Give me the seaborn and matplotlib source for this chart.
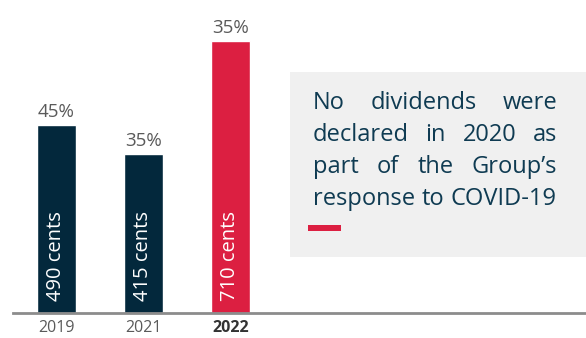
import matplotlib
matplotlib.use("Agg")
import matplotlib.pyplot as plt
import seaborn as sns
import pandas as pd
from matplotlib.patches import Rectangle

years = ["2019", "2021", "2022"]
dividend_cents = [490, 415, 710]
payout_labels = ["45%", "35%", "35%"]
bar_labels = ["490 cents", "415 cents", "710 cents"]
note_lines = ["No dividends were", "declared in 2020 as", "part of the Group\u2019s", "response to COVID-19"]

NAVY = "#03283c"
RED = "#dc1f41"
GRAY_TXT = "#5a5a5a"
NOTE_TXT = "#0f3b52"

sns.set_theme(style="white")
plt.rcParams['font.family'] = ['Open Sans', 'DejaVu Sans']

df = pd.DataFrame({"year": years, "cents": dividend_cents})

W, H = 586, 338
fig = plt.figure(figsize=(W / 100, H / 100), dpi=100)
ax = fig.add_axes([13 / W, 25 / H, 1 - 13 / W, 313 / H])

sns.barplot(data=df, x="year", y="cents", hue="year",
            palette=[NAVY, NAVY, RED], width=0.45, legend=False, ax=ax,
            saturation=1)

ax.set_xlim(-0.5, 6.09)
ax.set_ylim(0, 817)
for s in ["top", "right", "left"]:
    ax.spines[s].set_visible(False)
ax.spines["bottom"].set_color("#8c8c8c")
ax.spines["bottom"].set_linewidth(2)
ax.set_yticks([])
ax.set_xlabel("")
ax.set_ylabel("")
ax.set_xticks([0, 1, 2])
ax.set_xticklabels(years)
ax.tick_params(axis="x", length=0, pad=5, labelsize=11.5, colors=GRAY_TXT)
ax.get_xticklabels()[2].set_fontweight("bold")
ax.get_xticklabels()[2].set_color("#333333")

for i, (v, p, b) in enumerate(zip(dividend_cents, payout_labels, bar_labels)):
    ax.text(i, v + 10, p, ha="center", va="bottom", fontsize=13.5, color=GRAY_TXT)
    ax.text(i, 32, b, ha="center", va="bottom", rotation=90, fontsize=14.5, color="white")

# note box
box = Rectangle((290 / W, 1 - 257 / H), (W - 290) / W, (257 - 72) / H,
                transform=fig.transFigure, facecolor="#f0f0f0", edgecolor="none", zorder=0)
fig.patches.append(box)
fig.patches.append(Rectangle((308 / W, 1 - 231 / H), 33 / W, 6 / H,
                             transform=fig.transFigure, facecolor=RED, edgecolor="none"))

fig.canvas.draw()
renderer = fig.canvas.get_renderer()
x_left, x_right = 313, 557
baselines = [109, 141, 173, 205]
fs = 17
for li, (line, yb) in enumerate(zip(note_lines, baselines)):
    words = line.split(" ")
    yf = 1 - yb / H
    widths = []
    for w in words:
        t = fig.text(0, 0, w, fontsize=fs)
        widths.append(t.get_window_extent(renderer).width)
        t.remove()
    gap = (x_right - x_left - sum(widths)) / (len(words) - 1)
    if li == len(note_lines) - 1:
        gap = max(min(gap, 7), 4)
    x = x_left
    for w, wd in zip(words, widths):
        fig.text(x / W, yf, w, fontsize=fs, color=NOTE_TXT, va="baseline", ha="left")
        x += wd + gap

fig.savefig("out.png", dpi=100)
